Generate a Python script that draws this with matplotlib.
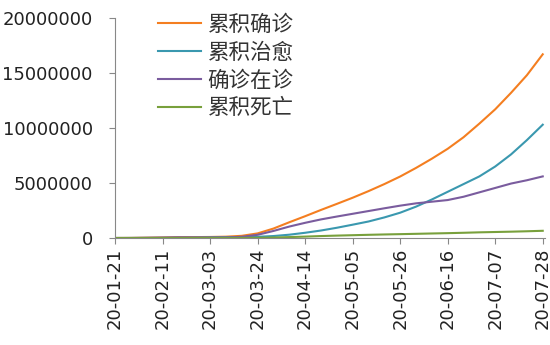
import numpy as np
import pandas as pd
import matplotlib
matplotlib.use('Agg')
import matplotlib.pyplot as plt
import matplotlib.dates as mdates

plt.rcParams['font.family'] = ['DejaVu Sans', 'Noto Sans CJK SC']

# weekly snapshots, 2020-01-21 .. 2020-07-28 (people)
dates = pd.date_range('2020-01-21', '2020-07-28', freq='7D')
confirmed = [300, 5600, 24000, 45000, 75000, 81000, 93000, 119000, 198000,
             418000, 857000, 1430000, 1980000, 2550000, 3100000, 3660000,
             4260000, 4900000, 5590000, 6370000, 7210000, 8110000, 9160000,
             10400000, 11700000, 13200000, 14800000, 16700000]
recovered = [0, 100, 900, 5100, 14600, 30000, 51000, 64000, 80000,
             108000, 178000, 300000, 475000, 680000, 930000, 1210000,
             1500000, 1870000, 2300000, 2850000, 3500000, 4200000, 4900000,
             5600000, 6500000, 7600000, 8900000, 10300000]
active = [300, 5500, 22000, 39000, 58000, 48000, 39000, 51000, 110000,
          290000, 640000, 1040000, 1380000, 1690000, 1950000, 2200000,
          2450000, 2700000, 2940000, 3150000, 3300000, 3450000, 3750000,
          4150000, 4550000, 4950000, 5250000, 5600000]
deaths = [6, 130, 490, 1100, 2000, 2700, 3100, 4300, 8000,
          19000, 42000, 83000, 126000, 177000, 218000, 254000,
          290000, 322000, 350000, 380000, 411000, 440000, 475000,
          515000, 545000, 575000, 612000, 655000]

labels = ['累积确诊', '累积治愈', '确诊在诊', '累积死亡']
colors = ['#F47E20', '#3A98AF', '#7A5C9E', '#78A03C']
series = [confirmed, recovered, active, deaths]

fig = plt.figure(figsize=(5.5, 3.45), dpi=100)
ax = fig.add_axes([115 / 550, 1 - 238 / 345, 430 / 550, 220 / 345])

for vals, lab, c in zip(series, labels, colors):
    ax.plot(dates, vals, color=c, linewidth=1.5, label=lab)

ax.set_ylim(0, 20000000)
ax.set_yticks(np.arange(0, 20000001, 5000000))
ax.yaxis.set_major_formatter(plt.FuncFormatter(lambda v, p: '%d' % v))
ax.set_xlim(dates[0], dates[-1] + pd.Timedelta(days=1))
ax.set_xticks(pd.date_range('2020-01-21', '2020-07-28', freq='21D'))
ax.xaxis.set_major_formatter(mdates.DateFormatter('%y-%m-%d'))

for s in ['top', 'right']:
    ax.spines[s].set_visible(False)
for s in ['left', 'bottom']:
    ax.spines[s].set_color('#888888')
    ax.spines[s].set_linewidth(0.8)
ax.tick_params(axis='both', colors='#888888', length=4, width=0.8,
               labelcolor='#222222', labelsize=13)
ax.tick_params(axis='y', pad=12)
ax.tick_params(axis='x', labelrotation=90, pad=3)

leg = ax.legend(loc='upper left', bbox_to_anchor=(158 / 550, 1 - 14 / 345),
                bbox_transform=fig.transFigure, frameon=False,
                prop={'family': ['Noto Sans CJK SC'], 'size': 15.5},
                handlelength=2.0, handletextpad=0.3, labelspacing=0.27,
                borderpad=0, borderaxespad=0)
for t in leg.get_texts():
    t.set_color('#333333')

fig.savefig('out.png', dpi=100)
